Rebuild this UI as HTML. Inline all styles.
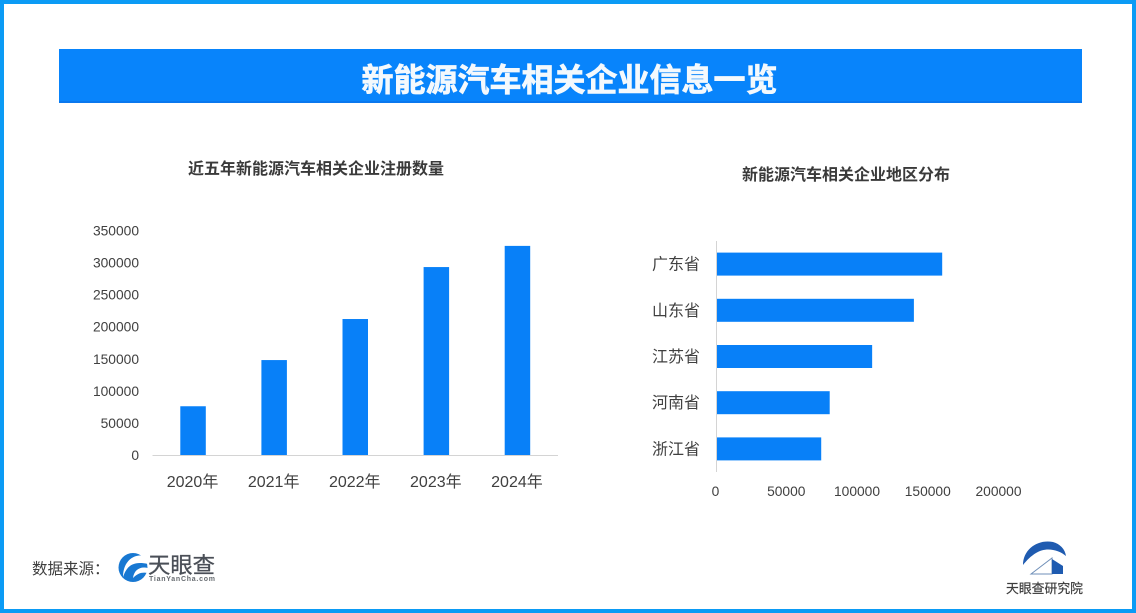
<!DOCTYPE html>
<html lang="zh">
<head>
<meta charset="utf-8">
<title>新能源汽车相关企业信息一览</title>
<style>
html,body{margin:0;padding:0;background:#fff;}
#page{position:relative;width:1136px;height:613px;overflow:hidden;background:#fff;font-family:"Liberation Sans","Noto Sans CJK SC",sans-serif;}
svg{position:absolute;left:0;top:0;}
text{font-family:"Liberation Sans","Noto Sans CJK SC",sans-serif;}
</style>
</head>
<body>
<div id="page">
<svg id="art" width="1136" height="613" viewBox="0 0 1136 613" xmlns="http://www.w3.org/2000/svg">
  <rect x="2" y="2" width="1132" height="609" fill="none" stroke="#0b9bf5" stroke-width="4"/>
  <rect x="59" y="49" width="1023" height="54" fill="#0884fb"/>
  <rect x="59" y="101" width="1023" height="2" fill="#0a78ee"/>
  <text x="569.5" y="91" text-anchor="middle" font-size="32" font-weight="700" fill="#f4f9fd" stroke="#f4f9fd" stroke-width="0.7">新能源汽车相关企业信息一览</text>
  <text x="316" y="174" text-anchor="middle" font-size="16" font-weight="700" fill="#3a3a3a">近五年新能源汽车相关企业注册数量</text>
  <text x="846" y="180" text-anchor="middle" font-size="16" font-weight="700" fill="#3a3a3a">新能源汽车相关企业地区分布</text>
  <g id="left-chart"></g>
  <g id="right-chart"></g>
  <text x="32" y="574" font-size="15.5" fill="#3f3f3f">数据来源：</text>
  <g>
    <circle cx="133" cy="567.5" r="14.5" fill="#1878d2"/>
    <path d="M146 556 C134 553 123 561 123 577 C127 565 134 561 148 564 Z" fill="#ffffff"/>
    <path d="M148 568 C140 566 134 570 133 578 C138 573 142 572 148 573 Z" fill="#ffffff"/>
    <text x="148" y="573" font-size="22" font-weight="400" fill="#4a4f57" stroke="#4a4f57" stroke-width="0.3" textLength="67" lengthAdjust="spacingAndGlyphs">天眼查</text>
    <text x="149" y="581" font-size="7" font-weight="700" fill="#666b70" textLength="66">TianYanCha.com</text>
  </g>
  <g>
    <path d="M1023 565 C1023 549 1038 539 1053 542 C1060 544 1065 549 1066 556 C1058 549 1045 547 1036 553 C1031 556 1027 560 1023 565 Z" fill="#1f5bb0"/>
    <path d="M1031 574 L1052 558 L1052 574 Z" fill="#ffffff" stroke="#6f8fb8" stroke-width="1"/>
    <path d="M1052 559 L1063 566 L1063 574 L1052 574 Z" fill="#1f5bb0"/>
    <text x="1006" y="593" font-size="13" font-weight="400" fill="#3c3c3c" stroke="#3c3c3c" stroke-width="0.2" textLength="77" lengthAdjust="spacingAndGlyphs">天眼查研究院</text>
  </g>
</svg>
</div>
<script>
const years = ['2020年', '2021年', '2022年', '2023年', '2024年'];
const yearCounts = [76000, 148000, 212000, 293000, 326000];
const countTicks = [0, 50000, 100000, 150000, 200000, 250000, 300000, 350000];
const provinces = ['广东省', '山东省', '江苏省', '河南省', '浙江省'];
const provinceCounts = [159500, 139500, 110000, 80000, 74000];
const regionTicks = [0, 50000, 100000, 150000, 200000];

const NS = 'http://www.w3.org/2000/svg';
function make(parent, tag, attrs, content) {
  const el = document.createElementNS(NS, tag);
  for (const key in attrs) el.setAttribute(key, attrs[key]);
  if (content !== undefined) el.textContent = content;
  parent.appendChild(el);
  return el;
}

const BLUE = '#0880f8';
const TEXT = '#404040';
const AXIS = '#d4d4d4';

/* left: vertical bars */
const left = document.getElementById('left-chart');
const yBase = 455, yTop = 230.5, leftX0 = 152.5, leftX1 = 558;
const yMax = countTicks[countTicks.length - 1];
const yScale = v => yBase - (v / yMax) * (yBase - yTop);
const bandW = (leftX1 - leftX0) / years.length;
const xBand = i => leftX0 + bandW * (i + 0.5);

countTicks.forEach(function (t) {
  const el = make(left, 'text', {x: 139, y: yScale(t) + 5, 'text-anchor': 'end', 'font-size': 13.8, fill: TEXT}, String(t));
  
  
});
years.forEach(function (label, i) {
  const bar = make(left, 'rect', {x: xBand(i) - 12.75, y: yScale(yearCounts[i]), width: 25.5, height: yBase - yScale(yearCounts[i]), fill: BLUE});
  
  
  const el = make(left, 'text', {x: xBand(i) - 0.5, y: 487, 'text-anchor': 'middle', 'font-size': 16, fill: TEXT}, label);
  
  
});
const leftAxis = make(left, 'line', {x1: leftX0, x2: leftX1, y1: yBase + 0.5, y2: yBase + 0.5, stroke: AXIS, 'stroke-width': 1});



/* right: horizontal bars */
const right = document.getElementById('right-chart');
const xBase = 716.5, xEnd = 999.5, rightY0 = 241, rightY1 = 472;
const xMax = regionTicks[regionTicks.length - 1];
const xScale = v => xBase + (v / xMax) * (xEnd - xBase);
const rowH = (rightY1 - rightY0) / provinces.length;
const yRow = i => rightY0 + rowH * (i + 0.5);

provinces.forEach(function (label, i) {
  const bar = make(right, 'rect', {x: xBase, y: yRow(i) - 11.5, width: xScale(provinceCounts[i]) - xBase, height: 23, fill: BLUE});
  
  
  const el = make(right, 'text', {x: 700, y: yRow(i) + 5.5, 'text-anchor': 'end', 'font-size': 16, fill: TEXT}, label);
  
  
});
regionTicks.forEach(function (t) {
  const el = make(right, 'text', {x: xScale(t) - 1, y: 496, 'text-anchor': 'middle', 'font-size': 13.8, fill: TEXT}, String(t));
  
  
});
const rightAxis = make(right, 'line', {x1: xBase, x2: xBase, y1: rightY0, y2: rightY1, stroke: AXIS, 'stroke-width': 1});


</script>
</body>
</html>
